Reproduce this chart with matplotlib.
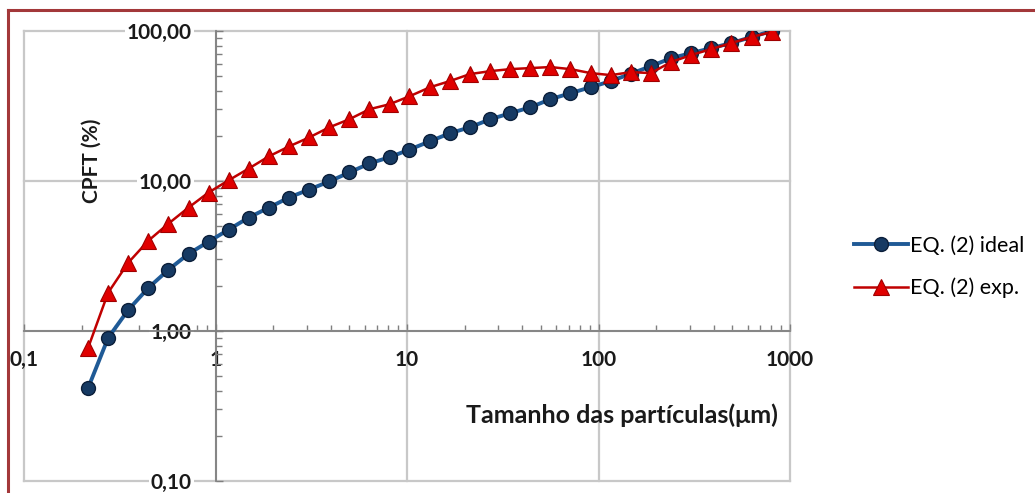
import matplotlib
matplotlib.use("Agg")
import matplotlib.pyplot as plt
from matplotlib.ticker import FixedLocator, FixedFormatter, LogLocator, NullFormatter

# ---- data ----
particle_size = [0.216, 0.275, 0.350, 0.446, 0.568, 0.723, 0.920, 1.17, 1.49, 1.90,
                 2.42, 3.08, 3.93, 5.00, 6.37, 8.11, 10.3, 13.2, 16.7, 21.3,
                 27.2, 34.6, 44.1, 56.1, 71.4, 91.0, 116, 148, 188, 239,
                 305, 388, 494, 630, 802]
cpft_ideal = [0.416, 0.90, 1.38, 1.94, 2.56, 3.27, 3.94, 4.74, 5.70, 6.65,
              7.76, 8.77, 9.93, 11.4, 13.1, 14.4, 16.2, 18.4, 20.8, 22.8,
              25.8, 28.3, 31.0, 35.1, 38.5, 42.2, 46.3, 52.0, 58.3, 65.9,
              71.2, 76.9, 83.1, 91.2, 100.0]
cpft_exp = [0.77, 1.80, 2.85, 4.0, 5.2, 6.65, 8.38, 10.1, 12.1, 14.6,
            17.0, 19.5, 22.8, 25.8, 30.1, 32.5, 36.7, 42.2, 46.3, 51.6,
            54.0, 55.7, 56.6, 57.5, 55.7, 52.4, 50.8, 53.2, 52.4, 62.1,
            69.1, 75.8, 83.1, 91.2, 98.5]
series_names = ["EQ. (2) ideal", "EQ. (2) exp."]
x_ticks = [0.1, 1, 10, 100, 1000]
x_tick_labels = ["0,1", "1", "10", "100", "1000"]
y_ticks = [0.1, 1, 10, 100]
y_tick_labels = ["0,10", "1,00", "10,00", "100,00"]
x_title = "Tamanho das partículas(μm)"
y_title = "CPFT (%)"

W, H = 1035, 493
fig = plt.figure(figsize=(W / 100, H / 100), dpi=100)
plt.rcParams['font.family'] = ['Lato', 'DejaVu Sans']

# plot area
x0, x1, y0, y1 = 24, 790, 31, 481
ax = fig.add_axes([x0 / W, 1 - y1 / H, (x1 - x0) / W, (y1 - y0) / H])
ax.set_xscale("log")
ax.set_yscale("log")
ax.set_xlim(0.1, 1000)
ax.set_ylim(0.1, 100)

blue_line = "#1f5a96"
blue_face = "#163a63"
blue_edge = "#0b1f3a"
red_line = "#c00000"
red_face = "#e00000"
red_edge = "#a00000"

ax.plot(particle_size, cpft_ideal, color=blue_line, lw=2.8, marker="o",
        ms=10, mfc=blue_face, mec=blue_edge, mew=1.0, label=series_names[0], zorder=3)
ax.plot(particle_size, cpft_exp, color=red_line, lw=1.8, marker="^",
        ms=11, mfc=red_face, mec=red_edge, mew=0.8, label=series_names[1], zorder=4)

# spines crossing at 1,1
for s in ["top", "right"]:
    ax.spines[s].set_visible(False)
ax.spines["left"].set_position(("data", 1))
ax.spines["bottom"].set_position(("data", 1))
for s in ["left", "bottom"]:
    ax.spines[s].set_color("#7f7f7f")
    ax.spines[s].set_linewidth(1.3)
    ax.spines[s].set_zorder(2)

ax.xaxis.set_major_locator(FixedLocator(x_ticks))
ax.xaxis.set_major_formatter(FixedFormatter(x_tick_labels))
ax.yaxis.set_major_locator(FixedLocator(y_ticks))
ax.yaxis.set_major_formatter(FixedFormatter(y_tick_labels))
ax.xaxis.set_minor_locator(LogLocator(base=10, subs=range(2, 10)))
ax.yaxis.set_minor_locator(LogLocator(base=10, subs=range(2, 10)))
ax.xaxis.set_minor_formatter(NullFormatter())
ax.yaxis.set_minor_formatter(NullFormatter())

ax.tick_params(which="both", direction="in", color="#7f7f7f", width=1.0)
ax.tick_params(which="major", length=5, labelsize=15, labelcolor="#1a1a1a")
ax.tick_params(axis="x", which="major", pad=14)
ax.tick_params(axis="y", which="major", pad=17)
ax.tick_params(which="minor", length=4)
for lab in ax.get_xticklabels():
    lab.set_fontweight("bold")
for lab in ax.get_yticklabels():
    lab.set_fontweight("bold")
    lab.set_bbox(dict(facecolor="white", edgecolor="none", pad=1.5))

ax.grid(True, which="major", color="#c8c8c8", lw=1.6, zorder=0)
for gl in ax.get_xgridlines() + ax.get_ygridlines():
    gl.set_clip_on(False)
ax.set_axisbelow(True)

ax.set_xlabel(x_title, fontsize=18, fontweight="bold", color="#1a1a1a", va="center")
ax.xaxis.set_label_coords((622 - x0) / (x1 - x0), (y1 - 415) / (y1 - y0))
ax.set_ylabel(y_title, fontsize=15, fontweight="bold", color="#1a1a1a", va="center")
ax.yaxis.set_label_coords((92 - x0) / (x1 - x0), (y1 - 161) / (y1 - y0))

fig.legend(loc="center left", bbox_to_anchor=(854 / W, 1 - 267 / H), frameon=False,
           fontsize=15.5, handlelength=2.5, handletextpad=0.1, labelspacing=1.0,
           numpoints=1, borderaxespad=0, borderpad=0)

# dark red frame (top and left edges visible)
frame_col = "#a3383a"
fig.add_artist(plt.Line2D([8 / W, 1], [1 - 10 / H, 1 - 10 / H], color=frame_col,
                          lw=2.2, transform=fig.transFigure))
fig.add_artist(plt.Line2D([8 / W, 8 / W], [0, 1 - 10 / H], color=frame_col,
                          lw=2.2, transform=fig.transFigure))

fig.savefig("out.png", dpi=100)
